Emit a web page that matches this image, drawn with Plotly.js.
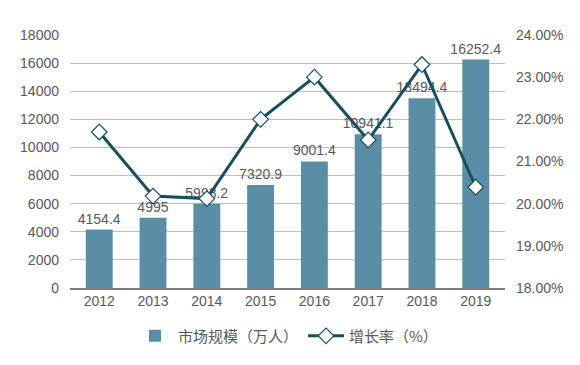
<!DOCTYPE html>
<html><head><meta charset="utf-8">
<script src="https://cdn.plot.ly/plotly-3.0.1.min.js"></script>
<style>html,body{margin:0;padding:0;background:#fff}#chart{width:580px;height:365px}</style>
</head><body><div id="chart"></div>
<script>
const years = ['2012','2013','2014','2015','2016','2017','2018','2019'];
const marketSize = [4154.4, 4995, 5998.2, 7320.9, 9001.4, 10941.1, 13494.4, 16252.4];
const marketLabels = ['4154.4','4995','5998.2','7320.9','9001.4','10941.1','13494.4','16252.4'];
const growthRate = [21.70, 20.18, 20.12, 22.00, 23.00, 21.51, 23.30, 20.39];
const leftTicks = [0,2000,4000,6000,8000,10000,12000,14000,16000,18000];
const rightTicks = [18,19,20,21,22,23,24];
const rightTickLabels = rightTicks.map(v => v.toFixed(2) + '%');

const fontFam = 'Liberation Sans, Arial, Noto Sans CJK SC, sans-serif';
const data = [
  {type:'bar', x: years, y: marketSize, name:'市场规模（万人）',
   marker:{color:'#5a8ea7'}, width:0.5,
   text: marketLabels, textposition:'outside', cliponaxis:false, constraintext:'none',
   textfont:{size:14, color:'#595959', family:fontFam}},
  {type:'scatter', mode:'lines+markers', x: years, y: growthRate, yaxis:'y2',
   name:'增长率（%）', line:{color:'#17505c', width:3},
   marker:{symbol:'diamond', size:12, color:'#ffffff', line:{color:'#17505c', width:1.2}}}
];
const layout = {
  width:580, height:365,
  margin:{l:70, r:75, t:35, b:67},
  paper_bgcolor:'#fff', plot_bgcolor:'#fff',
  font:{family:fontFam, size:14, color:'#595959'},
  bargap:0.5,
  showlegend:true,
  legend:{orientation:'h', x:0.5, xanchor:'center', y:-0.19, yanchor:'middle', itemwidth:36,
          font:{size:15, color:'#595959', family:'Noto Sans CJK SC, sans-serif'}, traceorder:'normal'},
  xaxis:{type:'category', showgrid:false, showline:true, linecolor:'#7f7f7f', linewidth:1.5,
         ticks:'', tickfont:{size:14, color:'#595959'}, zeroline:false},
  yaxis:{range:[0,18000], tickvals:leftTicks, ticktext:leftTicks.map(String), showgrid:true, gridcolor:'#bfbfbf',
         gridwidth:1, zeroline:false, showline:false, ticks:'', ticklabelstandoff:10,
         tickfont:{size:14, color:'#595959'}},
  yaxis2:{overlaying:'y', side:'right', range:[18,24], tickvals:rightTicks, ticktext:rightTickLabels,
          showgrid:false, zeroline:false, showline:false, ticks:'', ticklabelstandoff:10,
          tickfont:{size:14, color:'#595959'}}
};
Plotly.newPlot('chart', data, layout, {displayModeBar:false, staticPlot:true});
</script></body></html>
